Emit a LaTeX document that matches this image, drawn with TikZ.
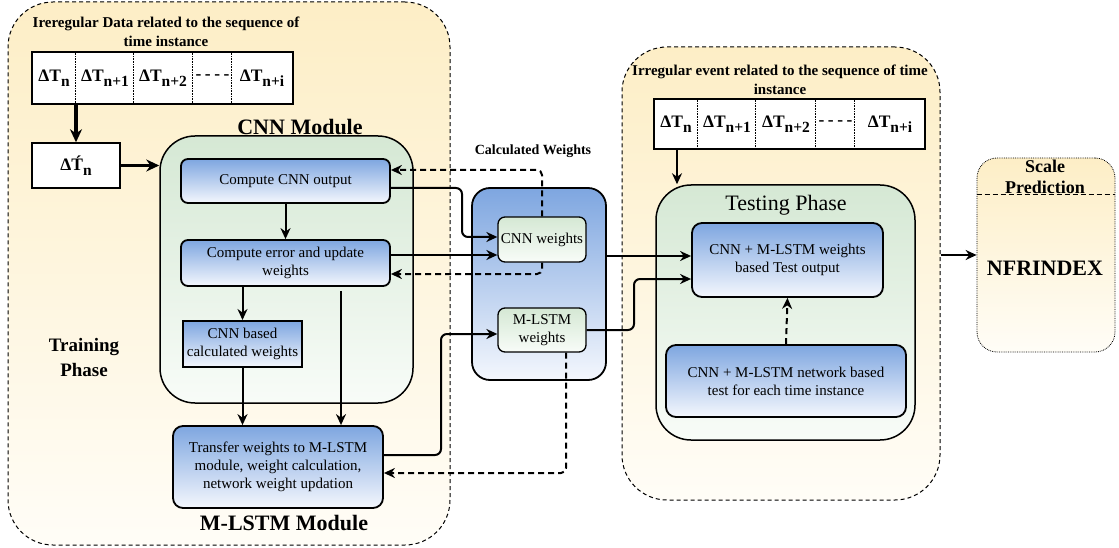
\documentclass[tikz,border=0pt]{standalone}
\usepackage{fontspec}
\setmainfont{Liberation Serif}
\usetikzlibrary{arrows.meta,calc}

\definecolor{orT}{HTML}{FDEEC6}
\definecolor{orB}{HTML}{FFFDF7}
\definecolor{grT}{HTML}{D5E8D4}
\definecolor{grB}{HTML}{F8FCF8}
\definecolor{blT}{HTML}{7EA6E0}
\definecolor{blB}{HTML}{F4F7FD}

\newcommand{\fsbox}{\fontsize{15}{18}\selectfont}
\newcommand{\dT}[1]{{\fontsize{17.5}{17.5}\selectfont\bfseries ΔT\raisebox{-0.3em}{\fontsize{15.5}{15.5}\selectfont #1}}}

\tikzset{
  region/.style={draw, line width=1pt, dash pattern=on 4pt off 3pt, rounded corners=45pt, top color=orT, bottom color=orB},
  module/.style={draw, line width=1.5pt, rounded corners=35pt, top color=grT, bottom color=grB},
  bluebox/.style={draw, line width=1.8pt, rounded corners=7pt, top color=blT, bottom color=blB, align=center, font=\fsbox, inner sep=2pt},
  greenbox/.style={draw, line width=1.3pt, rounded corners=7pt, top color=grT, bottom color=grB, align=center, font=\fsbox, inner sep=2pt},
  seqbox/.style={draw, line width=1.5pt, fill=white},
  arr/.style={-{Stealth[length=11pt,width=10pt]}, line width=2pt},
  thickarr/.style={-{Stealth[length=13pt,width=12pt]}, line width=3.2pt},
  darr/.style={-{Stealth[length=11pt,width=10pt]}, line width=2pt, dash pattern=on 6pt off 4pt},
  sep/.style={line width=0.6pt, densely dotted},
  ttl/.style={font=\fontsize{15}{19}\selectfont\bfseries, align=center, inner sep=0pt},
  dashcell/.style={font=\fontsize{17.5}{17.5}\selectfont\bfseries},
}

\begin{document}
\begin{tikzpicture}[x=1pt,y=-1pt]
\useasboundingbox (0,0) rectangle (1119,548);

% ---------- Training region ----------
\node[region, minimum width=442pt, minimum height=543pt] (trainreg) at (229,273.5) {};
\node[ttl] (trtitle) at (166,31.5) {Ireregular Data related to the sequence of\\time instance};

\node[seqbox, minimum width=261pt, minimum height=52pt] (seq1) at (162.5,78) {};
\draw[sep] ([xshift=44pt]seq1.north west) -- ([xshift=44pt]seq1.south west);
\draw[sep] ([xshift=102pt]seq1.north west) -- ([xshift=102pt]seq1.south west);
\draw[sep] ([xshift=161pt]seq1.north west) -- ([xshift=161pt]seq1.south west);
\draw[sep] ([xshift=200pt]seq1.north west) -- ([xshift=200pt]seq1.south west);
\node (c11) at (54,78) {\dT{n}};
\node (c12) at (105,78) {\dT{n+1}};
\node (c13) at (163,78) {\dT{n+2}};
\node[dashcell] (c14) at (212.5,77) {-\kern3.5pt-\kern3.5pt-\kern3.5pt-};
\node (c15) at (262,78) {\dT{n+i}};

\node[seqbox, minimum width=88pt, minimum height=45pt] (dtp) at (76,165.5)
  {{\fontsize{17.5}{17.5}\selectfont\bfseries Δ\'T\raisebox{-0.3em}{\fontsize{15.5}{15.5}\selectfont n}}};

\node[font=\fontsize{22}{22}\selectfont\bfseries] (cnntitle) at (300,127) {CNN Module};
\node[module, minimum width=253pt, minimum height=267pt] (cnnmod) at (286.5,269.5) {};

\node[bluebox, minimum width=209pt, minimum height=44pt] (cnnout) at (285.5,181) {Compute CNN output};
\node[bluebox, minimum width=209pt, minimum height=46pt] (cnnerr) at (285.5,263) {Compute error and update\\weights};
\node[draw, line width=2pt, top color=blT, bottom color=blB, align=center, font=\fsbox, inner sep=1pt,
      minimum width=119pt, minimum height=46pt] (cnnbased) at (242.5,344) {CNN based\\calculated weights};
\node[bluebox, minimum width=210pt, minimum height=82pt, rounded corners=10pt] (transfer) at (278,467)
  {Transfer weights to M-LSTM\\module, weight calculation,\\network weight updation};
\node[font=\fontsize{22}{22}\selectfont\bfseries] (lstmtitle) at (284,523) {M-LSTM Module};

\node[font=\fontsize{19}{25}\selectfont\bfseries, align=center] (trph) at (84,357.5) {Training\\Phase};

% ---------- Calculated weights ----------
\node[font=\fontsize{14}{14}\selectfont\bfseries] (cwtitle) at (533,151) {Calculated Weights};
\node[draw, line width=1.8pt, rounded corners=18pt, top color=blT, bottom color=blB,
      minimum width=134pt, minimum height=192pt] (calcw) at (539,284) {};
\node[greenbox, minimum width=88pt, minimum height=45pt] (cnnw) at (542,239.5) {CNN weights};
\node[greenbox, minimum width=88pt, minimum height=44pt] (lstmw) at (542,330) {M-LSTM\\weights};

% ---------- Testing region ----------
\node[region, minimum width=318pt, minimum height=453pt] (testreg) at (781,273.5) {};
\node[ttl] (tetitle) at (780,80) {Irregular event related to the sequence of time\\instance};

\node[seqbox, minimum width=271pt, minimum height=50pt] (seq2) at (789.5,124) {};
\draw[sep] ([xshift=44pt]seq2.north west) -- ([xshift=44pt]seq2.south west);
\draw[sep] ([xshift=102pt]seq2.north west) -- ([xshift=102pt]seq2.south west);
\draw[sep] ([xshift=162pt]seq2.north west) -- ([xshift=162pt]seq2.south west);
\draw[sep] ([xshift=201pt]seq2.north west) -- ([xshift=201pt]seq2.south west);
\node (c21) at (676,124) {\dT{n}};
\node (c22) at (727,124) {\dT{n+1}};
\node (c23) at (786,124) {\dT{n+2}};
\node[dashcell] (c24) at (835.5,123) {-\kern3.5pt-\kern3.5pt-\kern3.5pt-};
\node (c25) at (890,124) {\dT{n+i}};

\node[module, minimum width=259pt, minimum height=255pt] (testph) at (785.5,312.5) {};
\node[font=\fontsize{22}{22}\selectfont] (tptitle) at (786,205) {Testing Phase};
\node[bluebox, minimum width=191pt, minimum height=74pt, rounded corners=10pt] (testout) at (787.5,260)
  {CNN + M-LSTM weights\\based Test output};
\node[bluebox, minimum width=240pt, minimum height=72pt, rounded corners=10pt] (nettest) at (786,381)
  {CNN + M-LSTM network based\\test for each time instance};

% ---------- Scale prediction ----------
\node[draw, line width=0.8pt, densely dotted, rounded corners=20pt, top color=orT, bottom color=orB,
      minimum width=138pt, minimum height=194pt] (scale) at (1046,255) {};
\draw[line width=1pt, dash pattern=on 5pt off 3pt] ([yshift=-37pt]scale.north west) -- ([yshift=-37pt]scale.north east);
\node[font=\fontsize{18}{21}\selectfont\bfseries, align=center, inner sep=0pt] (sctitle) at (1045,176.5) {Scale\\Prediction};
\node[font=\fontsize{22}{22}\selectfont\bfseries] (nfr) at (1045,268) {NFRINDEX};

% ---------- Connectors ----------
\draw[thickarr] (dtp.north |- seq1.south) -- (dtp.north);
\draw[thickarr] (dtp.east) -- (dtp.east -| cnnmod.west);
\draw[arr] (cnnout.south) -- (cnnerr.north);
\draw[arr] (cnnbased.north |- cnnerr.south) -- (cnnbased.north);
\draw[arr] (cnnbased.south) -- (cnnbased.south |- transfer.north);
\draw[arr] ([xshift=55.5pt,yshift=-4pt]cnnerr.south) -- ([xshift=55.5pt]cnnerr.south |- transfer.north);

\draw[arr, rounded corners=6pt] ([yshift=-7pt]cnnout.east) -- (462,188) -- (462,237) -- ([yshift=2.5pt]cnnw.west);
\draw[arr] ([yshift=8pt]cnnerr.east) -- ([yshift=8pt]cnnerr.east -| cnnw.west);
\draw[darr, rounded corners=5pt] (cnnw.north) |- ([yshift=11pt]cnnout.east);
\draw[darr, rounded corners=5pt] (cnnw.south) |- ([yshift=-11pt]cnnerr.east);

\draw[arr, rounded corners=6pt] ([yshift=12pt]transfer.east) -- (441,455) -- (441,334) -- ([yshift=-4pt]lstmw.west);
\draw[darr, rounded corners=5pt] ([xshift=24pt]lstmw.south) |- ([yshift=-6pt]transfer.east);

\draw[arr] ([yshift=28pt]calcw.east) -- ([yshift=28pt]calcw.east -| testout.west);
\draw[arr, rounded corners=6pt] (lstmw.east) -- (634,330) -- (634,279) -- ([yshift=-19pt]testout.west);

\draw[arr] ([xshift=-112.5pt]seq2.south) -- ([xshift=-112.5pt]seq2.south |- testph.north);
\draw[darr] (nettest.north) -- (testout.south);
\draw[arr] ([yshift=18.5pt]testreg.east) -- (scale.west);

\end{tikzpicture}
\end{document}
